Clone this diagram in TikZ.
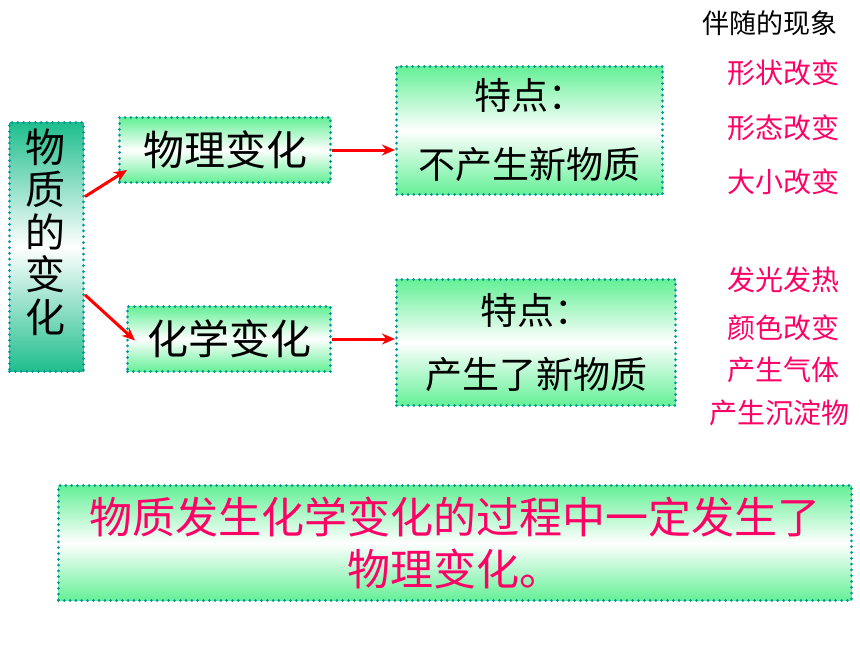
\documentclass[tikz,border=0pt]{standalone}
\usepackage{fontspec}
\setmainfont{Noto Sans CJK SC}
\usetikzlibrary{arrows.meta,calc}
\definecolor{teal2}{RGB}{0,150,150}
\definecolor{lgreen}{RGB}{100,240,150}
\definecolor{dgreen}{RGB}{30,190,140}
\definecolor{pinkred}{RGB}{255,0,102}
\tikzset{
  dotbox/.style={draw=teal2, line width=3pt, dash pattern=on 0pt off 5.8pt, line cap=round,
    shading=axis, top color=lgreen, bottom color=lgreen, middle color=white,
    inner sep=0pt, anchor=north west},
  darkbox/.style={dotbox, top color=dgreen, bottom color=dgreen, middle color=white},
  redarrow/.style={draw=red, line width=3pt, -{Stealth[length=13pt,width=11pt]}},
  side/.style={text=pinkred, font=\fontsize{28}{30}\selectfont, anchor=center},
}
\begin{document}
\begin{tikzpicture}[x=1pt,y=-1pt]
\useasboundingbox[fill=white] (0,0) rectangle (860,645);
% left box
\node[darkbox, minimum width=74pt, minimum height=249pt] (L) at (8,121) {};
\node[font=\fontsize{40}{42.5}\selectfont, align=center] (Lt) at (45,232) {物\\质\\的\\变\\化};
% middle boxes
\node[dotbox, minimum width=211pt, minimum height=65pt, font=\fontsize{41}{44}\selectfont] (P) at (118,116) {物理变化};
\node[dotbox, minimum width=203pt, minimum height=65pt, font=\fontsize{41}{44}\selectfont] (C) at (126,305) {化学变化};
% feature boxes
\node[dotbox, minimum width=266pt, minimum height=128pt, align=center, font=\fontsize{37}{69}\selectfont] (T1) at (395,65) {特点：\\不产生新物质};
\node[dotbox, minimum width=279pt, minimum height=126pt, align=center, font=\fontsize{37}{64}\selectfont] (T2) at (395,278) {特点：\\产生了新物质};
% bottom box
\node[dotbox, minimum width=793pt, minimum height=115pt, align=center, text=pinkred, font=\fontsize{43}{52}\selectfont] (B) at (57,484) {物质发生化学变化的过程中一定发生了\\物理变化。};
% arrows
\draw[redarrow] ($(L.north east)!0.3!(L.south east)$) -- ($(P.south west)+(9,-14)$);
\draw[redarrow] ($(L.north east)!0.69!(L.south east)$) -- ($(C.west)+(9,1.5)$);
\draw[redarrow] (P.east) -- (P.east -| T1.west);
\draw[redarrow] (C.east) -- (C.east -| T2.west);
% right column
\node[font=\fontsize{27}{30}\selectfont, anchor=center] (H) at (770,23) {伴随的现象};
\node[side] (s1) at (783,73) {形状改变};
\node[side] (s2) at (783,128) {形态改变};
\node[side] (s3) at (783,182) {大小改变};
\node[side] (s4) at (783,280) {发光发热};
\node[side] (s5) at (783,328) {颜色改变};
\node[side] (s6) at (783,370) {产生气体};
\node[side] (s7) at (779,413) {产生沉淀物};
\end{tikzpicture}
\end{document}
